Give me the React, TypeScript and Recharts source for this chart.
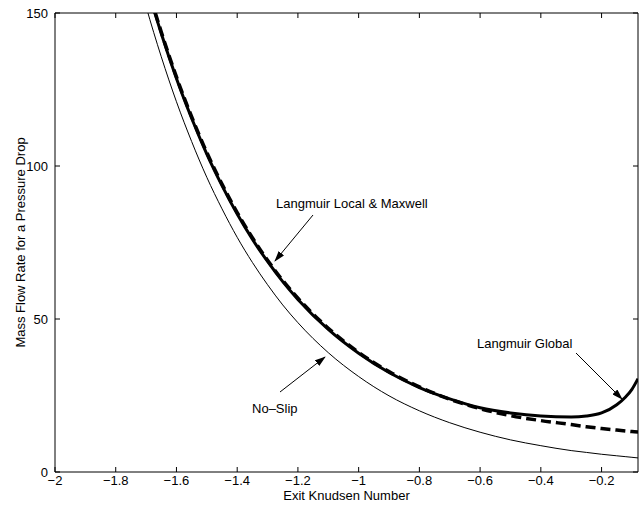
import { LineChart, Line, XAxis, YAxis } from 'recharts'

// log10 of the exit Knudsen number
const knudsenLog = [
    -1.75, -1.7, -1.65, -1.6, -1.55, -1.5, -1.45, -1.4, -1.35, -1.3, -1.25, -1.2, -1.1, -1.0, -0.9, -0.8, -0.7, -0.6,
    -0.5, -0.4, -0.3, -0.25, -0.2, -0.15, -0.12, -0.1, -0.08,
]
const noSlip = [
    170.5, 152.1, 135.7, 121.0, 108.0, 96.3, 86.0, 76.7, 68.5, 61.2, 54.6, 48.8, 39.0, 31.2, 24.9, 20.0, 16.1, 13.0,
    10.5, 8.6, 7.0, 6.4, 5.8, 5.3, 5.0, 4.8, 4.6,
]
const langmuirLocalMaxwell = [
    178.5, 160.2, 143.8, 129.1, 116.1, 104.4, 94.1, 84.8, 76.6, 69.2, 62.6, 56.8, 47.0, 39.1, 32.8, 27.8, 23.8, 20.7,
    18.4, 16.8, 15.5, 14.8, 14.2, 13.7, 13.4, 13.2, 13.1,
]
const langmuirGlobal = [
    178, 159.7, 143.3, 128.6, 115.6, 103.9, 93.6, 84.3, 76.1, 68.8, 62.2, 56.4, 46.6, 38.8, 32.5, 27.6, 23.9, 21.0,
    19.3, 18.3, 18.0, 18.3, 19.3, 22.0, 24.6, 27.0, 30.5,
]
const xTicks = [-2, -1.8, -1.6, -1.4, -1.2, -1, -0.8, -0.6, -0.4, -0.2]
const yTicks = [0, 50, 100, 150]

const data = knudsenLog.map((kn, i) => ({
    kn,
    noSlip: noSlip[i],
    local: langmuirLocalMaxwell[i],
    global: langmuirGlobal[i],
}))

const font = '"Liberation Sans", Arial, Helvetica, sans-serif'
const tickStyle = { fill: '#000', fontSize: 13, fontFamily: font }
const labelStyle = { fill: '#000', fontSize: 13, fontFamily: font, textAnchor: 'middle' as const }
const withMinus = (v: number) => String(v).replace('-', '\u2212')
const blank = () => ''

const Arrow = ({ x1, y1, x2, y2 }: { x1: number; y1: number; x2: number; y2: number }) => (
    <line x1={x1} y1={y1} x2={x2} y2={y2} stroke="#000" strokeWidth={1} markerEnd="url(#head)" />
)

export default function App() {
    return (
        <div style={{ position: 'absolute', left: 0, top: 0, width: 641, height: 506, background: '#fff' }}>
            <LineChart width={641} height={506} data={data} margin={{ top: 12, right: 2, bottom: 0, left: 0 }}>
                <XAxis
                    xAxisId="b"
                    dataKey="kn"
                    type="number"
                    domain={[-2, -0.08]}
                    ticks={xTicks}
                    allowDataOverflow
                    tickFormatter={withMinus}
                    tickSize={-5}
                    tickMargin={9}
                    height={34}
                    stroke="#000"
                    tick={tickStyle}
                    label={{ value: 'Exit Knudsen Number', position: 'insideBottom', offset: 6, style: labelStyle }}
                />
                <XAxis
                    xAxisId="t"
                    orientation="top"
                    dataKey="kn"
                    type="number"
                    domain={[-2, -0.08]}
                    ticks={xTicks}
                    allowDataOverflow
                    tickFormatter={blank}
                    tickSize={-5}
                    height={1}
                    stroke="#000"
                />
                <YAxis
                    yAxisId="l"
                    type="number"
                    domain={[0, 150]}
                    ticks={yTicks}
                    allowDataOverflow
                    width={55}
                    tickSize={-5}
                    tickMargin={12}
                    stroke="#000"
                    tick={tickStyle}
                    label={{
                        value: 'Mass Flow Rate for a Pressure Drop',
                        angle: -90,
                        position: 'insideLeft',
                        offset: 20,
                        style: labelStyle,
                    }}
                />
                <YAxis
                    yAxisId="r"
                    orientation="right"
                    type="number"
                    domain={[0, 150]}
                    ticks={yTicks}
                    allowDataOverflow
                    width={1}
                    tickFormatter={blank}
                    tickSize={-5}
                    stroke="#000"
                />
                <Line
                    xAxisId="b"
                    yAxisId="l"
                    type="monotone"
                    dataKey="noSlip"
                    stroke="#000"
                    strokeWidth={1}
                    dot={false}
                    isAnimationActive={false}
                />
                <Line
                    xAxisId="t"
                    yAxisId="r"
                    type="monotone"
                    dataKey="global"
                    stroke="#000"
                    strokeWidth={3}
                    dot={false}
                    isAnimationActive={false}
                />
                <Line
                    xAxisId="b"
                    yAxisId="l"
                    type="monotone"
                    dataKey="local"
                    stroke="#000"
                    strokeWidth={3.5}
                    strokeDasharray="10 5"
                    dot={false}
                    isAnimationActive={false}
                />
            </LineChart>
            <svg
                width={641}
                height={506}
                style={{ position: 'absolute', left: 0, top: 0, pointerEvents: 'none' }}
                fontFamily={font}
                fontSize={13}
            >
                <defs>
                    <marker id="head" markerWidth="11" markerHeight="7" refX="10" refY="3.5" orient="auto" markerUnits="userSpaceOnUse">
                        <path d="M0,0 L11,3.5 L0,7 Z" fill="#000" />
                    </marker>
                </defs>
                <text x={276} y={208} fill="#000">Langmuir Local &amp; Maxwell</text>
                <Arrow x1={313} y1={215} x2={275} y2={261} />
                <text x={477} y={348} fill="#000">Langmuir Global</text>
                <Arrow x1={576} y1={353} x2={622} y2={399} />
                <text x={252} y={413} fill="#000">No{'\u2013'}Slip</text>
                <Arrow x1={280} y1={392} x2={325} y2={357} />
            </svg>
        </div>
    )
}
